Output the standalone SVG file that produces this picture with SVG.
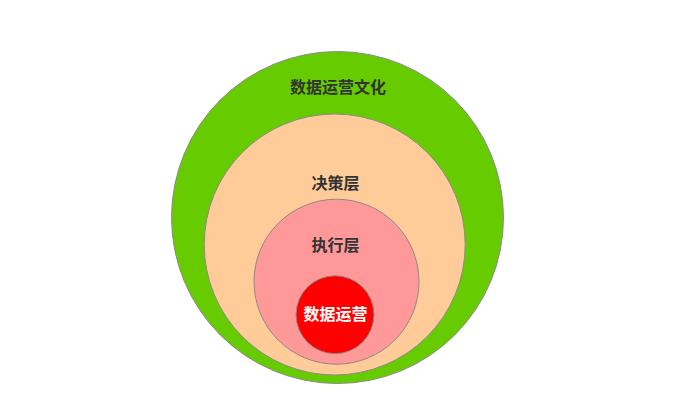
<svg xmlns="http://www.w3.org/2000/svg" width="689" height="409" viewBox="0 0 689 409">
<style>
.c{stroke:#8a8a8a;stroke-width:1}
.t{font-family:"Noto Sans CJK SC","Noto Sans",sans-serif;font-size:16px;font-weight:bold;fill:#333333;text-anchor:middle;dominant-baseline:central}
</style>
<rect width="689" height="409" fill="#ffffff"/>
<g id="culture">
<circle class="c" cx="337.5" cy="217.5" r="166" fill="#66cc00"/>
<text class="t" x="338" y="86">数据运营文化</text>
</g>
<g id="decision">
<circle class="c" cx="334.7" cy="244.5" r="130.5" fill="#ffcc99"/>
<text class="t" x="335.5" y="181.5">决策层</text>
</g>
<g id="execution">
<circle class="c" cx="336.5" cy="281.7" r="82.5" fill="#ff9999"/>
<text class="t" x="335.5" y="244">执行层</text>
</g>
<g id="core">
<circle class="c" cx="335" cy="314.7" r="39" fill="#ff0000"/>
<text class="t" x="335.5" y="313" style="fill:#ffffff">数据运营</text>
</g>
<g id="connectors"/>
</svg>
